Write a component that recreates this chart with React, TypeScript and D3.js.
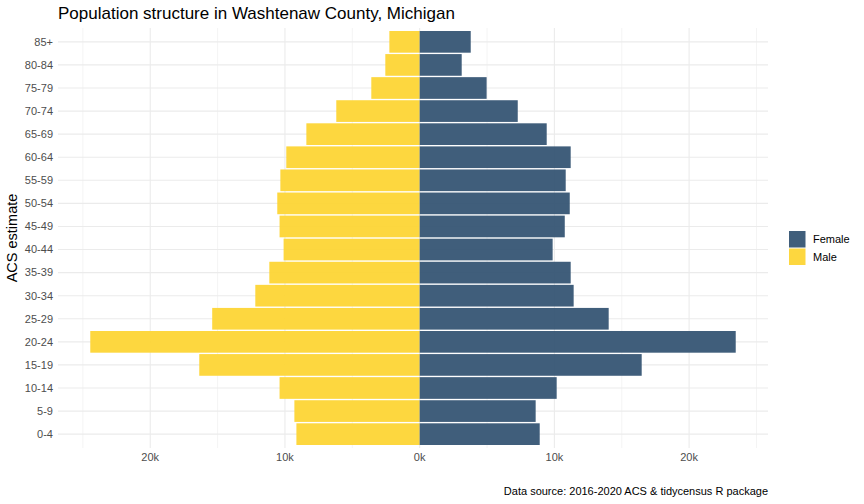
import React from 'react';
import * as d3 from 'd3';

// age groups, youngest first (drawn bottom to top)
const ageGroups = [
  '0-4', '5-9', '10-14', '15-19', '20-24', '25-29', '30-34', '35-39', '40-44',
  '45-49', '50-54', '55-59', '60-64', '65-69', '70-74', '75-79', '80-84', '85+',
];
const femaleValues = [
  8910, 8610, 10170, 16480, 23460, 14030, 11430, 11210, 9870,
  10770, 11140, 10840, 11210, 9430, 7280, 4970, 3120, 3790,
];
const maleValues = [
  9150, 9300, 10400, 16360, 24450, 15400, 12200, 11160, 10100,
  10400, 10570, 10340, 9900, 8410, 6190, 3590, 2550, 2250,
];
const xTicks = [-20000, -10000, 0, 10000, 20000];
const xMinorTicks = [-25000, -15000, -5000, 5000, 15000, 25000];
const seriesNames = ['Female', 'Male'];
const seriesColors = ['#365574', '#fdd535'];

const W = 864;
const H = 504;
const margin = { top: 28, right: 96, bottom: 56, left: 58 };
const font = '"Liberation Sans", Arial, sans-serif';

const App = () => {
  const rows = ageGroups.map((age, i) => ({
    age,
    female: femaleValues[i],
    male: -maleValues[i],
  }));

  const minV = d3.min(rows, (d) => d.male) as number;
  const maxV = d3.max(rows, (d) => d.female) as number;
  const pad = (maxV - minV) * 0.05;

  const x = d3
    .scaleLinear()
    .domain([minV - pad, maxV + pad])
    .range([margin.left, W - margin.right]);

  // reversed so the oldest group sits on top
  const y = d3
    .scaleBand()
    .domain([...ageGroups].reverse())
    .range([margin.top, H - margin.bottom])
    .paddingInner(0.06)
    .paddingOuter(0.13);

  const bw = y.bandwidth();
  const color = d3.scaleOrdinal<string, string>().domain(seriesNames).range(seriesColors);
  const fmt = (v: number) => `${Math.abs(v) / 1000}k`;

  const x0 = margin.left;
  const x1 = W - margin.right;
  const y0 = margin.top;
  const y1 = H - margin.bottom;

  return (
    <svg
      width={W}
      height={H}
      style={{ position: 'absolute', left: 0, top: 0, fontFamily: font }}
    >
      <rect width={W} height={H} fill="#fff" />

      {/* grid */}
      {xMinorTicks.map((t) => (
        <line key={'m' + t} x1={x(t)} x2={x(t)} y1={y0} y2={y1} stroke="#ebebeb" strokeWidth={0.55} />
      ))}
      {xTicks.map((t) => (
        <line key={'M' + t} x1={x(t)} x2={x(t)} y1={y0} y2={y1} stroke="#ebebeb" strokeWidth={1.1} />
      ))}
      {ageGroups.map((a) => (
        <line
          key={'h' + a}
          x1={x0}
          x2={x1}
          y1={(y(a) as number) + bw / 2}
          y2={(y(a) as number) + bw / 2}
          stroke="#ebebeb"
          strokeWidth={1.1}
        />
      ))}

      {/* bars */}
      {rows.map((d) => (
        <g key={d.age}>
          <rect
            x={x(d.male)}
            y={y(d.age)}
            width={x(0) - x(d.male)}
            height={bw}
            fill={color('Male')}
            fillOpacity={0.95}
          />
          <rect
            x={x(0)}
            y={y(d.age)}
            width={x(d.female) - x(0)}
            height={bw}
            fill={color('Female')}
            fillOpacity={0.95}
          />
        </g>
      ))}

      {/* y axis labels */}
      {ageGroups.map((a) => (
        <text
          key={'y' + a}
          x={x0 - 5}
          y={(y(a) as number) + bw / 2}
          dy="0.35em"
          textAnchor="end"
          fontSize={11}
          fill="#4d4d4d"
        >
          {a}
        </text>
      ))}

      {/* x axis labels */}
      {xTicks.map((t) => (
        <text key={'x' + t} x={x(t)} y={y1 + 13} textAnchor="middle" fontSize={11} fill="#4d4d4d">
          {fmt(t)}
        </text>
      ))}

      <text
        transform={`translate(17,${(y0 + y1) / 2}) rotate(-90)`}
        textAnchor="middle"
        fontSize={14.5}
        fill="#000"
      >
        ACS estimate
      </text>

      <text x={x0} y={19} fontSize={17} fill="#000">
        Population structure in Washtenaw County, Michigan
      </text>

      {/* legend */}
      {seriesNames.map((s, i) => (
        <g key={s} transform={`translate(789,${231 + i * 17.5})`}>
          <rect width={16.5} height={16.5} fill={color(s)} fillOpacity={0.95} />
          <text x={24} y={8.5} dy="0.35em" fontSize={11} fill="#000">
            {s}
          </text>
        </g>
      ))}

      <text x={x1} y={495} textAnchor="end" fontSize={11} fill="#000">
        Data source: 2016-2020 ACS &amp; tidycensus R package
      </text>
    </svg>
  );
};

export default App;
